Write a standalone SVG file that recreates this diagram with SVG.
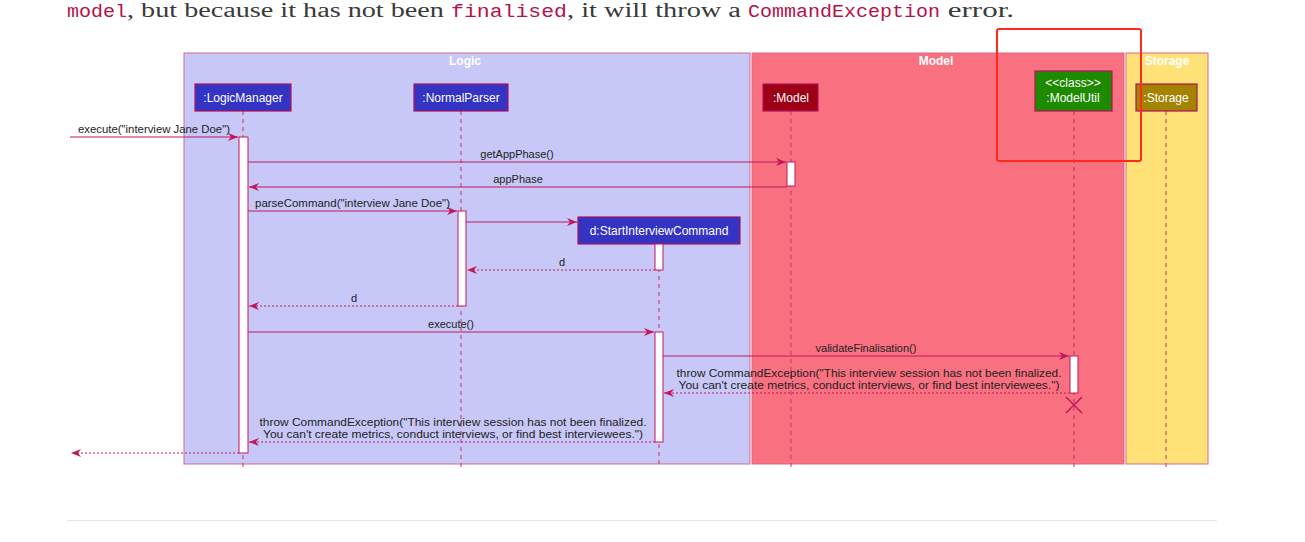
<svg xmlns="http://www.w3.org/2000/svg" width="1305" height="542" viewBox="0 0 1305 542">
<style>
.para{font-family:"Liberation Serif","DejaVu Serif",serif;font-size:20px;fill:#3a3a3a}
.code{font-family:"Liberation Mono","DejaVu Sans Mono",monospace;font-size:19px;fill:#b5124a}
.grp{stroke:#d46a8a;stroke-width:1}
.gtitle{font-family:"Liberation Sans",Arial,sans-serif;font-size:12px;font-weight:bold;fill:#ffffff;text-anchor:middle}
.part{stroke:#b0125a;stroke-width:1.2}
.ptxt{font-family:"Liberation Sans",Arial,sans-serif;font-size:12px;fill:#ffffff;text-anchor:middle}
.life{stroke:#c8336b;stroke-width:1;stroke-dasharray:4 4;fill:none}
.act{fill:#ffffff;stroke:#c2185b;stroke-width:1}
.msg{stroke:#c2185b;stroke-width:1;fill:none}
.ret{stroke:#c2185b;stroke-width:1;fill:none;stroke-dasharray:2 2}
.lbl{font-family:"Liberation Sans",Arial,sans-serif;font-size:11px;fill:#222222}
.mid{text-anchor:middle}
</style>
<defs>
<marker id="ah" markerWidth="10" markerHeight="8" refX="10" refY="4" orient="auto" markerUnits="userSpaceOnUse">
<path d="M0,0 L10,4 L0,8 L3,4 Z" fill="#c2185b"/>
</marker>
</defs>
<rect width="1305" height="542" fill="#ffffff"/>
<text y="17" class="para"><tspan x="67" class="code" textLength="60" lengthAdjust="spacingAndGlyphs">model</tspan><tspan x="127" textLength="324" lengthAdjust="spacingAndGlyphs">, but because it has not been </tspan><tspan x="451" class="code" textLength="116" lengthAdjust="spacingAndGlyphs">finalised</tspan><tspan x="567" textLength="181" lengthAdjust="spacingAndGlyphs">, it will throw a </tspan><tspan x="748" class="code" textLength="192" lengthAdjust="spacingAndGlyphs">CommandException</tspan><tspan x="940" textLength="74" lengthAdjust="spacingAndGlyphs"> error.</tspan></text>

<g id="group-logic">
<rect x="184" y="53" width="566" height="411" fill="#c8c8f8" class="grp"/>
<text x="465" y="65" class="gtitle">Logic</text>
</g>
<g id="group-model">
<rect x="752" y="53" width="372" height="411" fill="#f97181" class="grp"/>
<text x="936" y="65" class="gtitle">Model</text>
</g>
<g id="group-storage">
<rect x="1126" y="53" width="82" height="411" fill="#ffe177" class="grp"/>
<text x="1167" y="65" class="gtitle">Storage</text>
</g>

<g id="lifelines">
<line x1="243" y1="111" x2="243" y2="467" class="life"/>
<line x1="461" y1="111" x2="461" y2="467" class="life"/>
<line x1="791" y1="111" x2="791" y2="467" class="life"/>
<line x1="1074" y1="111" x2="1074" y2="467" class="life"/>
<line x1="1166" y1="111" x2="1166" y2="467" class="life"/>
<line x1="659" y1="244" x2="659" y2="467" class="life"/>
</g>

<g id="LogicManager">
<rect x="195" y="84" width="96" height="27" fill="#3333c4" class="part"/>
<text x="243" y="102" class="ptxt">:LogicManager</text>
</g>
<g id="NormalParser">
<rect x="414" y="84" width="94" height="27" fill="#3333c4" class="part"/>
<text x="461" y="102" class="ptxt">:NormalParser</text>
</g>
<g id="Model">
<rect x="763" y="84" width="55" height="27" fill="#9d0016" class="part"/>
<text x="791" y="102" class="ptxt">:Model</text>
</g>
<g id="ModelUtil">
<rect x="1035" y="71" width="77" height="40" fill="#1e8a00" class="part"/>
<text x="1073" y="87" class="ptxt">&lt;&lt;class&gt;&gt;</text>
<text x="1073" y="102" class="ptxt">:ModelUtil</text>
</g>
<g id="Storage">
<rect x="1136" y="84" width="61" height="27" fill="#a38300" class="part"/>
<text x="1166" y="102" class="ptxt">:Storage</text>
</g>
<g id="StartInterviewCommand">
<rect x="578" y="217" width="162" height="27" fill="#3333c4" class="part"/>
<text x="659" y="235" class="ptxt">d:StartInterviewCommand</text>
</g>

<g id="activations">
<rect x="239" y="137" width="9" height="316" class="act"/>
<rect x="787" y="162" width="8" height="24" class="act"/>
<rect x="458" y="211" width="8" height="95" class="act"/>
<rect x="655" y="244" width="8" height="26" class="act"/>
<rect x="655" y="332" width="8" height="110" class="act"/>
<rect x="1070" y="356" width="8" height="37" class="act"/>
</g>

<g id="connectors">
<line x1="70" y1="137" x2="238" y2="137" class="msg" marker-end="url(#ah)"/>
<text x="78" y="133" class="lbl" textLength="152" lengthAdjust="spacingAndGlyphs">execute("interview Jane Doe")</text>

<line x1="248" y1="162" x2="786" y2="162" class="msg" marker-end="url(#ah)"/>
<text x="517" y="158" class="lbl mid">getAppPhase()</text>

<line x1="787" y1="187" x2="249" y2="187" class="msg" marker-end="url(#ah)"/>
<text x="518" y="183" class="lbl mid">appPhase</text>

<line x1="248" y1="211" x2="457" y2="211" class="msg" marker-end="url(#ah)"/>
<text x="255" y="207" class="lbl" textLength="195" lengthAdjust="spacingAndGlyphs">parseCommand("interview Jane Doe")</text>

<line x1="466" y1="222" x2="577" y2="222" class="msg" marker-end="url(#ah)"/>

<line x1="655" y1="270" x2="467" y2="270" class="ret" marker-end="url(#ah)"/>
<text x="562" y="266" class="lbl mid">d</text>

<line x1="458" y1="306" x2="249" y2="306" class="ret" marker-end="url(#ah)"/>
<text x="354" y="302" class="lbl mid">d</text>

<line x1="248" y1="332" x2="654" y2="332" class="msg" marker-end="url(#ah)"/>
<text x="451" y="328" class="lbl mid">execute()</text>

<line x1="663" y1="356" x2="1069" y2="356" class="msg" marker-end="url(#ah)"/>
<text x="866" y="352" class="lbl mid">validateFinalisation()</text>

<line x1="1070" y1="393" x2="664" y2="393" class="ret" marker-end="url(#ah)"/>
<text x="869" y="377" class="lbl mid" textLength="385" lengthAdjust="spacingAndGlyphs">throw CommandException("This interview session has not been finalized.</text>
<text x="869" y="389" class="lbl mid" textLength="381" lengthAdjust="spacingAndGlyphs">You can't create metrics, conduct interviews, or find best interviewees.")</text>

<line x1="655" y1="442" x2="249" y2="442" class="ret" marker-end="url(#ah)"/>
<text x="453" y="426" class="lbl mid" textLength="387" lengthAdjust="spacingAndGlyphs">throw CommandException("This interview session has not been finalized.</text>
<text x="453" y="438" class="lbl mid" textLength="380" lengthAdjust="spacingAndGlyphs">You can't create metrics, conduct interviews, or find best interviewees.")</text>

<line x1="239" y1="453" x2="71" y2="453" class="ret" marker-end="url(#ah)"/>

<path d="M1066,397 L1082,413 M1082,397 L1066,413" stroke="#c2185b" stroke-width="1.5" fill="none"/>
</g>

<rect x="997" y="29" width="144" height="132" rx="2" fill="none" stroke="#ff2a1a" stroke-width="2"/>
<line x1="67" y1="520.5" x2="1217" y2="520.5" stroke="#e6e6e6" stroke-width="1"/>
</svg>
